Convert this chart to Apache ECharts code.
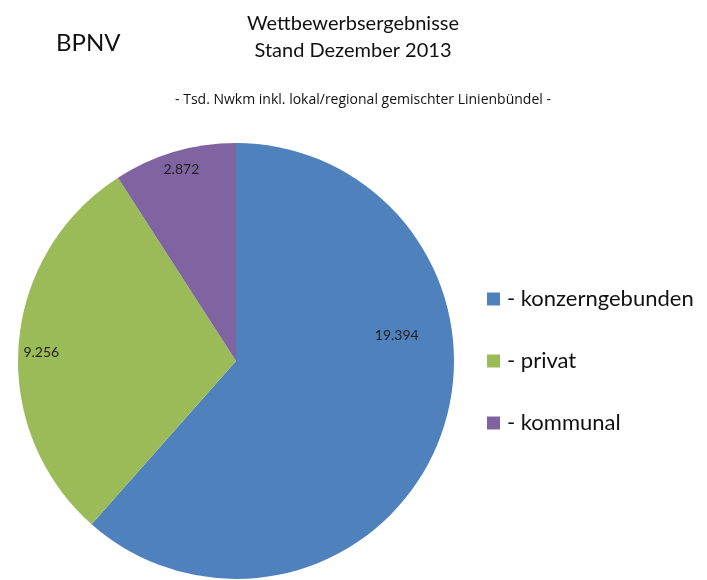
<!DOCTYPE html>
<html><head><meta charset="utf-8">
<script src="https://cdn.jsdelivr.net/npm/echarts@6/dist/echarts.min.js"></script>
<style>html,body{margin:0;padding:0;background:#fff}#c{width:707px;height:580px}</style>
</head><body><div id="c"></div>
<script>
const categories = ['- konzerngebunden', '- privat', '- kommunal'];
const values = [19.394, 9.256, 2.872];
const labelTexts = ['19.394', '9.256', '2.872'];
const colors = ['#4F81BD', '#9BBB59', '#8064A2'];
const labelShift = [[56, -65], [-83, 0], [-23, -84]];

const font = 'Lato, "Open Sans", sans-serif';
const chart = echarts.init(document.getElementById('c'));
chart.setOption({
  animation: false,
  title: [
    {text: 'BPNV', left: 51, top: 26, textStyle: {fontFamily: font, fontSize: 24, fontWeight: 'normal', color: '#111'}},
    {text: 'Wettbewerbsergebnisse\nStand Dezember 2013', left: 348, top: 5, textAlign: 'center',
     textStyle: {fontFamily: font, fontSize: 20, fontWeight: 'normal', color: '#111', lineHeight: 27}},
    {text: '- Tsd. Nwkm inkl. lokal/regional gemischter Linienbündel -', left: 358, top: 88, textAlign: 'center',
     textStyle: {fontFamily: '"Open Sans", sans-serif', fontSize: 14, fontWeight: 'normal', color: '#111', letterSpacing: -0.1}},
  ],
  legend: {
    orient: 'vertical', left: 482, top: 283, icon: 'rect', itemWidth: 13, itemHeight: 13,
    itemGap: 40, data: categories,
    textStyle: {fontFamily: font, fontSize: 22, color: '#111', lineHeight: 22, padding: [0, 0, 0, 2]}
  },
  series: [{
    type: 'pie', center: [236, 361], radius: 218, startAngle: 90, clockwise: true,
    itemStyle: {borderWidth: 0},
    label: {show: true, position: 'inside', fontFamily: font, fontSize: 14, color: '#222',
      formatter: p => labelTexts[p.dataIndex]},
    labelLine: {show: false},
    emphasis: {disabled: true},
    labelLayout: p => ({dx: labelShift[p.dataIndex][0], dy: labelShift[p.dataIndex][1]}),
    data: categories.map((n, i) => ({name: n, value: values[i], itemStyle: {color: colors[i]}}))
  }]
});
</script></body></html>
